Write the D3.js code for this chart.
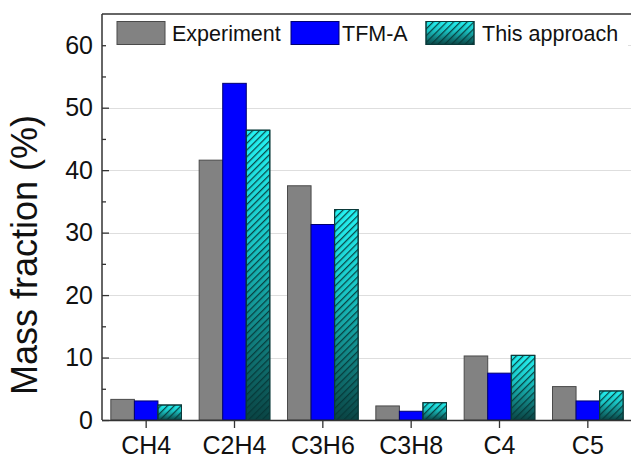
<!DOCTYPE html>
<html>
<head>
<meta charset="utf-8">
<script src="https://cdn.jsdelivr.net/npm/d3@7"></script>
<style>
  body { margin: 0; background: #fff; }
  svg { display: block; }
  text { font-family: "Liberation Sans", Arial, sans-serif; fill: #111; }
</style>
</head>
<body>
<svg id="chart" width="631" height="459"></svg>
<script>
// Product mass fractions (%) per species
const categories = ["CH4", "C2H4", "C3H6", "C3H8", "C4", "C5"];
const seriesNames = ["Experiment", "TFM-A", "This approach"];
const experiment = [3.3, 41.6, 37.5, 2.25, 10.25, 5.35];
const tfmA = [3.05, 53.9, 31.3, 1.4, 7.5, 3.05];
const thisApproach = [2.4, 46.4, 33.7, 2.77, 10.35, 4.65];
const yTicks = [0, 10, 20, 30, 40, 50, 60];
const yMinorTicks = [5, 15, 25, 35, 45, 55];
const yTitle = "Mass fraction (%)";

const seriesValues = [experiment, tfmA, thisApproach];
const rows = categories.map((c, i) => ({
  cat: c,
  vals: seriesNames.map((s, k) => ({ series: s, k, v: seriesValues[k][i] }))
}));

const svg = d3.select("#chart");
const plotLeft = 102, plotRight = 632, plotTop = 14, plotBottom = 420;

const x0 = d3.scaleBand().domain(categories).range([plotLeft, plotRight])
  .paddingInner(0.2).paddingOuter(0.1);
const x1 = d3.scaleBand().domain(seriesNames).range([0, x0.bandwidth()]);
const y = d3.scaleLinear().domain([0, 65]).range([plotBottom, plotTop]);

// fills: flat grey, flat blue, cyan gradient with diagonal hatch
const defs = svg.append("defs");
const grad = defs.append("linearGradient").attr("id", "cyanGrad")
  .attr("x1", 0).attr("y1", 0).attr("x2", 0).attr("y2", 1);
grad.append("stop").attr("offset", "0%").attr("stop-color", "#25f2f2");
grad.append("stop").attr("offset", "40%").attr("stop-color", "#19c4c4");
grad.append("stop").attr("offset", "100%").attr("stop-color", "#0a4444");
const hatch = defs.append("pattern").attr("id", "hatch")
  .attr("patternUnits", "userSpaceOnUse")
  .attr("width", 4.8).attr("height", 10)
  .attr("patternTransform", "rotate(45)");
hatch.append("line").attr("x1", 0.6).attr("y1", 0).attr("x2", 0.6).attr("y2", 10)
  .attr("stroke", "#063636").attr("stroke-width", 1.3).attr("stroke-opacity", 0.9);

const fills = ["#828282", "#0000ff", "url(#cyanGrad)"];
const strokes = ["#4a4a4a", "#000070", "#0b3a3a"];

// gridlines
svg.append("g").selectAll("line")
  .data(yTicks.filter(d => d > 0))
  .join("line")
  .attr("x1", plotLeft).attr("x2", plotRight)
  .attr("y1", d => Math.round(y(d)) + 0.5).attr("y2", d => Math.round(y(d)) + 0.5)
  .attr("stroke", "#dedede").attr("stroke-width", 1);

// bars
const groups = svg.append("g").selectAll("g")
  .data(rows).join("g")
  .attr("transform", d => `translate(${x0(d.cat)},0)`);

groups.selectAll("rect.bar")
  .data(d => d.vals).join("rect")
  .attr("class", "bar")
  .attr("x", d => x1(d.series))
  .attr("y", d => y(d.v))
  .attr("width", x1.bandwidth())
  .attr("height", d => y(0) - y(d.v))
  .attr("fill", d => fills[d.k])
  .attr("stroke", d => strokes[d.k])
  .attr("stroke-width", 1);

groups.selectAll("rect.hatch")
  .data(d => d.vals.filter(v => v.k === 2)).join("rect")
  .attr("class", "hatch")
  .attr("x", d => x1(d.series))
  .attr("y", d => y(d.v))
  .attr("width", x1.bandwidth())
  .attr("height", d => y(0) - y(d.v))
  .attr("fill", "url(#hatch)")
  .attr("stroke", "#0b3a3a").attr("stroke-width", 1);

// frame lines (top and left)
svg.append("line").attr("x1", plotLeft).attr("x2", plotRight).attr("y1", plotTop).attr("y2", plotTop)
  .attr("stroke", "#333").attr("stroke-width", 1.5);
svg.append("line").attr("x1", plotLeft).attr("x2", plotLeft).attr("y1", plotTop).attr("y2", plotBottom)
  .attr("stroke", "#333").attr("stroke-width", 1.5);

// y axis (ticks pointing inward)
const yAxis = svg.append("g").attr("transform", `translate(${plotLeft},0)`)
  .call(d3.axisLeft(y).tickValues(yTicks).tickSizeInner(-7).tickSizeOuter(0).tickPadding(9));
yAxis.select(".domain").remove();
yAxis.selectAll("line").attr("stroke", "#333").attr("stroke-width", 1.3);
yAxis.selectAll("text").style("font-size", "25px")
  .style("font-family", "'Liberation Sans', Arial, sans-serif").attr("fill", "#111");

const yMinor = svg.append("g").attr("transform", `translate(${plotLeft},0)`)
  .call(d3.axisLeft(y).tickValues(yMinorTicks).tickSizeInner(-4).tickSizeOuter(0).tickFormat(""));
yMinor.select(".domain").remove();
yMinor.selectAll("line").attr("stroke", "#333").attr("stroke-width", 1.3);

// x axis
const xAxis = svg.append("g").attr("transform", `translate(0,${plotBottom})`)
  .call(d3.axisBottom(x0).tickSizeInner(8).tickSizeOuter(0).tickPadding(8));
xAxis.select(".domain").attr("stroke", "#333").attr("stroke-width", 1.5)
  .attr("d", `M${plotLeft},0.5H${plotRight}`);
xAxis.selectAll("line").attr("stroke", "#333").attr("stroke-width", 1.3);
xAxis.selectAll("text").style("font-size", "25px")
  .style("font-family", "'Liberation Sans', Arial, sans-serif").attr("fill", "#111");

// y title
svg.append("text")
  .attr("transform", `translate(37,${(plotTop + plotBottom) / 2 + 38}) rotate(-90)`)
  .attr("text-anchor", "middle")
  .style("font-size", "36px")
  .text(yTitle);

// legend
const legendX = [117, 291, 426];
const legend = svg.append("g");
legend.append("rect").attr("x", 106).attr("y", 16).attr("width", 522).attr("height", 34)
  .attr("fill", "#fff");
const items = legend.selectAll("g.item").data(seriesNames).join("g")
  .attr("class", "item")
  .attr("transform", (d, i) => `translate(${legendX[i]},21.5)`);
items.append("rect").attr("width", 48).attr("height", 23)
  .attr("fill", (d, i) => fills[i]).attr("stroke", (d, i) => strokes[i]);
items.filter((d, i) => i === 2).append("rect").attr("width", 48).attr("height", 23)
  .attr("fill", "url(#hatch)").attr("stroke", "#0b3a3a");
items.append("text").attr("x", (d, i) => [55, 51, 56][i]).attr("y", 19.5)
  .style("font-size", "21.5px").text(d => d);
</script>
</body>
</html>
